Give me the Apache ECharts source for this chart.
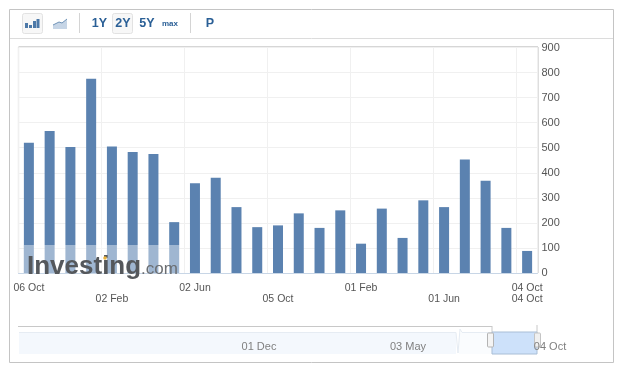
<!DOCTYPE html>
<html><head><meta charset="utf-8">
<style>html,body{margin:0;padding:0;background:#fff}#c{width:624px;height:368px}</style>
<script src="https://cdn.jsdelivr.net/npm/echarts@6/dist/echarts.min.js"></script>
</head><body><div id="c"></div>
<script>
const categories = ['06 Oct','03 Nov','01 Dec','05 Jan','02 Feb','02 Mar','06 Apr','04 May','02 Jun','06 Jul','03 Aug','07 Sep','05 Oct','02 Nov','07 Dec','04 Jan','01 Feb','01 Mar','05 Apr','03 May','01 Jun','06 Jul','03 Aug','07 Sep','04 Oct'];
const values = [520,567,503,775,505,483,475,203,358,380,263,183,190,238,180,250,117,257,140,290,263,453,368,180,88];
const upperLabels = {0:'06 Oct',8:'02 Jun',16:'01 Feb',24:'04 Oct'};
const lowerLabels = {4:'02 Feb',12:'05 Oct',20:'01 Jun',24:'04 Oct'};
const yTicks = [0,900];
const rangeButtons = [['1Y',99.5,12.5],['2Y',123,12.5],['5Y',147,12.5],['max',170,8]];
const navLabels = [['01 Dec',259],['03 May',408],['04 Oct',550]];
const font = '"Liberation Sans", Arial, sans-serif';
const ch = echarts.init(document.getElementById('c'));
const line = (x1,y1,x2,y2,c,w)=>({type:'line',shape:{x1,y1,x2,y2},style:{stroke:c,lineWidth:w||1},silent:true});
const rect = (x,y,width,height,fill,stroke,r,z)=>({type:'rect',shape:{x,y,width,height,r:r||0},style:{fill:fill||'none',stroke:stroke||'none',lineWidth:1},z:z||1,silent:true});
const graphics = [
  rect(9.5,9.5,604,353,'none','#c4c4c4'),
  line(10,38.5,613,38.5,'#dcdcdc'),
  // toolbar
  rect(22.5,13.5,20,20,'#f7f7f7','#e2e2e2',2), rect(112.5,13.5,20,20,'#f7f7f7','#e2e2e2',2),
  rect(25,23,3,5,'#4d79a8',null,0,3),rect(29,25,3,3,'#4d79a8',null,0,3),rect(33,21,3,7,'#4d79a8',null,0,3),rect(36.5,19,3,9,'#4d79a8',null,0,3),
  {type:'polygon',shape:{points:[[53,25],[59,22],[62,23],[67,19],[67,29],[53,29]]},style:{fill:'#c6d5e6'},silent:true},
  {type:'polyline',shape:{points:[[53,25],[59,22],[62,23],[67,19]]},style:{stroke:'#6f93b8',fill:'none',lineWidth:1},silent:true},
  line(79.5,13,79.5,33,'#d4d4d4'), line(190.5,13,190.5,33,'#d4d4d4'),
  ...rangeButtons.map(([t,x,s])=>({type:'text',x,y:24,z:5,style:{text:t,font:`bold ${s}px ${font}`,fill:'#2a5f96',align:'center',verticalAlign:'middle'},silent:true})),
  {type:'text',x:210,y:24,z:5,style:{text:'P',font:`bold 12.5px ${font}`,fill:'#2a5f96',align:'center',verticalAlign:'middle'},silent:true},
  // plot frame
  line(18.5,47,538,47,'#c8c8c8',1.5), line(18.5,47,18.5,273,'#c8c8c8',1.2), line(538,47,538,273,'#c8c8c8',1.2),
  // watermark
  rect(24,245,156,28,'rgba(255,255,255,0.42)',null,0,50),
  {type:'text',x:27,y:267,z:51,style:{text:'Investing',font:`bold 26px ${font}`,fill:'#55585c',align:'left',verticalAlign:'middle'},silent:true},
  {type:'circle',shape:{cx:105,cy:258,r:1.8},style:{fill:'#e9b23c'},z:52,silent:true},
  {type:'text',x:141,y:269,z:51,style:{text:'.com',font:`17px ${font}`,fill:'#6b6e72',align:'left',verticalAlign:'middle'},silent:true},
  // navigator
  line(18,326.5,492,326.5,'#c8c8c8'),
  rect(19,333,437,21,'#f4f8fd'),
  rect(459,333,33,21,'#fafcfe'),
  {type:'polyline',shape:{points:[[19,332.5],[456,332.5],[458,353],[460,329],[462,332.5],[492,332.5]]},style:{stroke:'#e6ecf3',fill:'none',lineWidth:1},z:2,silent:true},
  line(492,326,492,333,'#c8c8c8'), line(537,325,537,333,'#c8c8c8'),
  rect(492,332,45,22,'#cde1fa','#a9bed6',0,3),
  line(492,332.5,537,332.5,'#6f93c0',1),
  rect(487.5,333,6,14,'#f4f4f4','#b4b4b4',1,4), rect(534.5,333,6,14,'#f0f0f0','#c4c4c4',1,4),
  ...navLabels.map(([t,x])=>({type:'text',x,y:346.5,z:5,style:{text:t,font:`11px ${font}`,fill:'#808080',align:'center',verticalAlign:'middle'},silent:true}))
];
ch.setOption({
  animation:false,
  backgroundColor:'#fff',
  textStyle:{fontFamily:font},
  grid:{left:18.5,right:86.5,top:47.5,bottom:95,containLabel:false},
  xAxis:{type:'category',data:categories,
    axisLine:{lineStyle:{color:'#c8d6e6'}},axisTick:{show:false},
    splitLine:{show:true,interval:i=>i%4===0,lineStyle:{color:'#f0f0f0'}},
    axisLabel:{interval:0,margin:10,fontSize:10.5,color:'#555',lineHeight:11,showMinLabel:true,showMaxLabel:true,hideOverlap:false,
      formatter:(v,i)=>{
        if(upperLabels[i]===undefined&&lowerLabels[i]===undefined) return '';
        return (upperLabels[i]||' ')+'\n'+(lowerLabels[i]||' ');
      }}},
  yAxis:{type:'value',position:'right',min:yTicks[0],max:yTicks[1],interval:100,
    axisLine:{show:false},axisTick:{show:false},
    splitLine:{lineStyle:{color:'#f0f0f0'}},
    axisLabel:{fontSize:11,color:'#555',margin:4}},
  series:[{type:'bar',data:values,barWidth:10,itemStyle:{color:'#5b82b0'}}],
  graphic:graphics
});
</script></body></html>
